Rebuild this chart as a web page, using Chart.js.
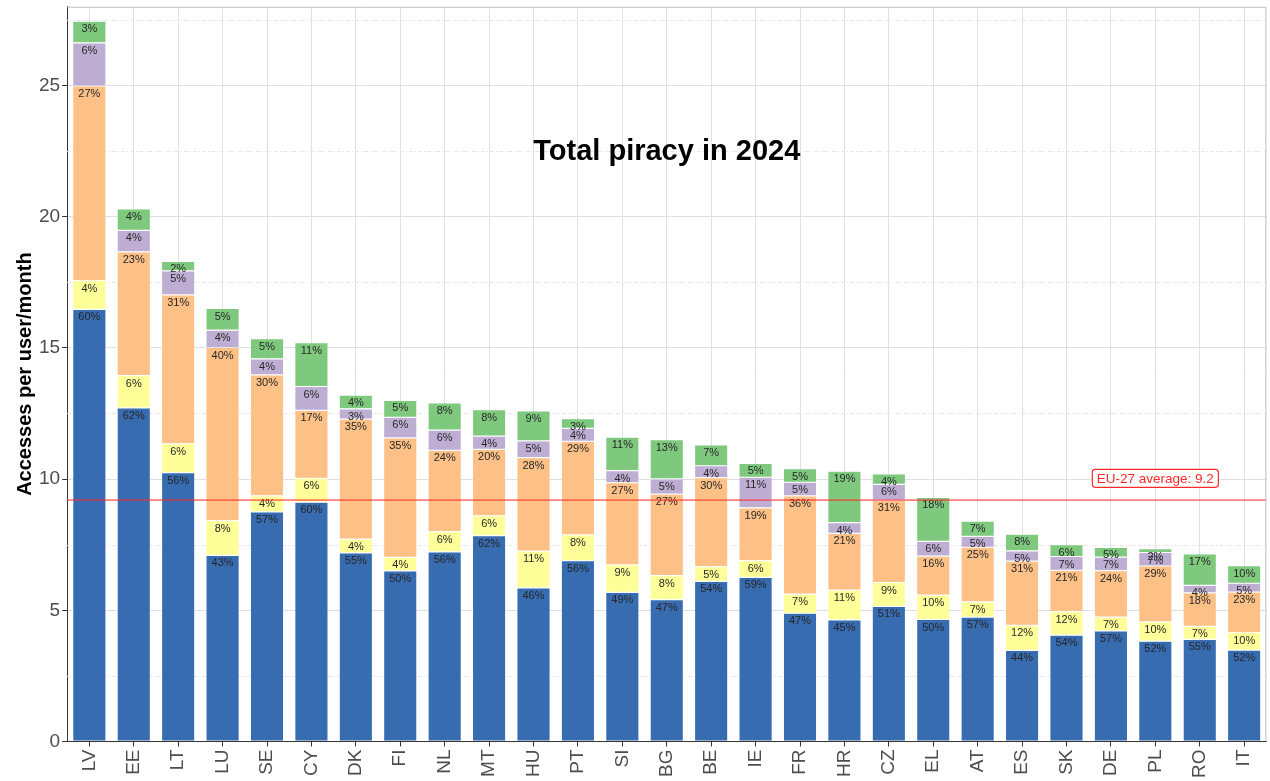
<!DOCTYPE html>
<html>
<head>
<meta charset="utf-8">
<script src="https://cdn.jsdelivr.net/npm/chart.js@4"></script>
<style>
  body { margin: 0; background: #fff; }
  #wrap { width: 1270px; height: 781px; position: relative; }
</style>
</head>
<body>
<div id="wrap"><canvas id="piracy"></canvas></div>
<script>
const countries = ["LV", "EE", "LT", "LU", "SE", "CY", "DK", "FI", "NL", "MT", "HU", "PT", "SI", "BG",
  "BE", "IE", "FR", "HR", "CZ", "EL", "AT", "ES", "SK", "DE", "PL", "RO", "IT"];
const totals = [27.45, 20.3, 18.3, 16.5, 15.35, 15.2, 13.2, 13.0, 12.9, 12.65, 12.6, 12.3, 11.6, 11.5,
  11.3, 10.6, 10.4, 10.3, 10.2, 9.3, 8.4, 7.9, 7.5, 7.4, 7.35, 7.15, 6.7];
// shares in % per segment, bottom to top
const shareBlue   = [60, 62, 56, 43, 57, 60, 55, 50, 56, 62, 46, 56, 49, 47, 54, 59, 47, 45, 51, 50, 57, 44, 54, 57, 52, 55, 52];
const shareYellow = [4, 6, 6, 8, 4, 6, 4, 4, 6, 6, 11, 8, 9, 8, 5, 6, 7, 11, 9, 10, 7, 12, 12, 7, 10, 7, 10];
const shareOrange = [27, 23, 31, 40, 30, 17, 35, 35, 24, 20, 28, 29, 27, 27, 30, 19, 36, 21, 31, 16, 25, 31, 21, 24, 29, 18, 23];
const sharePurple = [6, 4, 5, 4, 4, 6, 3, 6, 6, 4, 5, 4, 4, 5, 4, 11, 5, 4, 6, 6, 5, 5, 7, 7, 7, 4, 5];
const shareGreen  = [3, 4, 2, 5, 5, 11, 4, 5, 8, 8, 9, 3, 11, 13, 7, 5, 5, 19, 4, 18, 7, 8, 6, 5, 2, 17, 10];
const euAverage = 9.2;
const yTicks = [0, 5, 10, 15, 20, 25];

const shares = [shareBlue, shareYellow, shareOrange, sharePurple, shareGreen];
const colors = ["#386CB0", "#FFFF99", "#FDC086", "#BEAED4", "#7FC97F"];
const FONT = "'Liberation Sans', Arial, sans-serif";

const shareSum = countries.map((c, j) => shares.reduce((s, arr) => s + arr[j], 0));

const datasets = shares.map((arr, i) => ({
  label: "segment " + (i + 1),
  data: arr.map((p, j) => totals[j] * p / shareSum[j]),
  backgroundColor: colors[i],
  borderColor: "rgba(255,255,255,0.55)",
  borderWidth: 0.6,
  borderSkipped: false,
  barPercentage: 0.75,
  categoryPercentage: 1.0,
}));

const extras = {
  id: "extras",
  beforeDatasetsDraw(chart) {
    const { ctx, chartArea: a, scales: { y } } = chart;
    ctx.save();
    // minor grid lines
    ctx.strokeStyle = "#e6e6e6";
    ctx.lineWidth = 1;
    ctx.setLineDash([4, 2, 1, 2]);
    for (let v = 2.5; v < y.max; v += 5) {
      const py = Math.round(y.getPixelForValue(v)) + 0.5;
      ctx.beginPath();
      ctx.moveTo(a.left, py);
      ctx.lineTo(a.right, py);
      ctx.stroke();
    }
    ctx.setLineDash([]);
    // title inside the panel
    ctx.fillStyle = "#000";
    ctx.font = "bold 29px " + FONT;
    ctx.textAlign = "center";
    ctx.textBaseline = "alphabetic";
    ctx.fillText("Total piracy in 2024", (a.left + a.right) / 2, y.getPixelForValue(22.15));
    ctx.restore();
  },
  afterDatasetsDraw(chart) {
    const { ctx, chartArea: a, scales: { x, y } } = chart;
    ctx.save();
    // segment labels
    ctx.font = "11px " + FONT;
    ctx.fillStyle = "#262626";
    ctx.textAlign = "center";
    ctx.textBaseline = "middle";
    shares.forEach((arr, i) => {
      chart.getDatasetMeta(i).data.forEach((bar, j) => {
        ctx.fillText(arr[j] + "%", bar.x, bar.y + 8);
      });
    });
    // EU average line
    const ly = y.getPixelForValue(euAverage);
    ctx.strokeStyle = "rgba(255,40,40,0.6)";
    ctx.lineWidth = 1.6;
    ctx.beginPath();
    ctx.moveTo(a.left, ly);
    ctx.lineTo(a.right, ly);
    ctx.stroke();
    // EU label box
    const txt = "EU-27 average: " + euAverage;
    ctx.font = "13.5px " + FONT;
    const w = ctx.measureText(txt).width + 9;
    const h = 18;
    const cx = x.getPixelForValue(24);
    const cy = y.getPixelForValue(10.03);
    ctx.fillStyle = "#fff";
    ctx.strokeStyle = "#ff2a2a";
    ctx.lineWidth = 1.2;
    ctx.beginPath();
    ctx.roundRect(cx - w / 2, cy - h / 2, w, h, 3);
    ctx.fill();
    ctx.stroke();
    ctx.fillStyle = "#ff2a2a";
    ctx.fillText(txt, cx, cy + 1);
    ctx.restore();
  },
  afterDraw(chart) {
    const { ctx, chartArea: a } = chart;
    ctx.save();
    ctx.strokeStyle = "#bfbfbf";
    ctx.lineWidth = 1;
    ctx.beginPath();
    ctx.moveTo(a.left, a.top + 0.5);
    ctx.lineTo(a.right - 0.5, a.top + 0.5);
    ctx.lineTo(a.right - 0.5, a.bottom);
    ctx.stroke();
    ctx.restore();
  },
};

new Chart(document.getElementById("piracy"), {
  type: "bar",
  data: { labels: countries, datasets },
  options: {
    responsive: true,
    maintainAspectRatio: false,
    animation: false,
    layout: { padding: { top: 5, right: 2, left: 2, bottom: 0 } },
    plugins: { legend: { display: false }, tooltip: { enabled: false } },
    scales: {
      x: {
        stacked: true,
        grid: { offset: false, color: "#e0e0e0", tickColor: "#333", tickLength: 5 },
        border: { color: "#333", width: 1 },
        ticks: {
          color: "#4d4d4d",
          font: { family: FONT, size: 19 },
          minRotation: 90,
          maxRotation: 90,
          padding: 3,
          autoSkip: false,
        },
      },
      y: {
        stacked: true,
        min: 0,
        max: 28,
        afterBuildTicks(scale) {
          scale.ticks = yTicks.map((v) => ({ value: v }));
        },
        grid: { color: "#e0e0e0", tickColor: "#333", tickLength: 5 },
        border: { color: "#333", width: 1 },
        ticks: {
          color: "#4d4d4d",
          font: { family: FONT, size: 19, lineHeight: 0.5 },
          padding: 2,
        },
        title: {
          display: true,
          text: "Accesses per user/month",
          color: "#000",
          font: { family: FONT, size: 20, weight: "bold" },
          padding: { top: 11, bottom: 0 },
        },
      },
    },
  },
  plugins: [extras],
});
</script>
</body>
</html>
